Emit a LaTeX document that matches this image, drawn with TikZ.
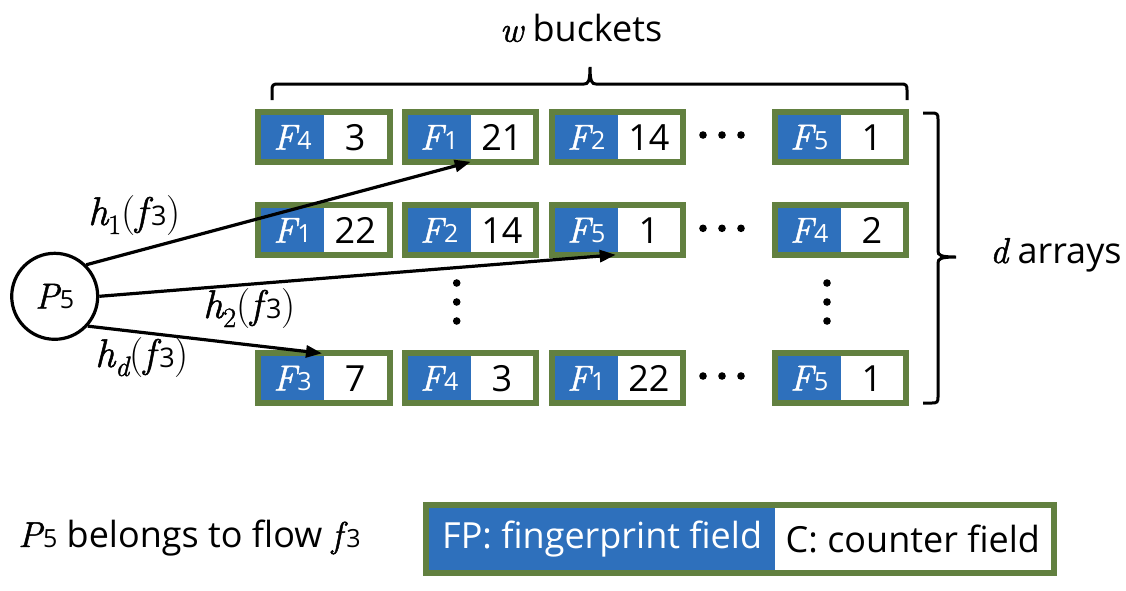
\documentclass[tikz,border=0pt]{standalone}
\usepackage{fontspec}
\setsansfont{Open Sans}
\newfontfamily\mif{Latin Modern Roman}[FakeBold=1.3]
\usetikzlibrary{arrows.meta,fit}
\definecolor{bgreen}{RGB}{98,128,64}
\definecolor{bblue}{RGB}{46,112,188}
\newcommand\vi[1]{{\mif\itshape #1}}
\newcommand\sdig[1]{{\fontsize{25}{25}\selectfont #1}}
\newcommand\ldig[1]{{\fontsize{27}{27}\selectfont #1}}
\newcommand\lsub[1]{\raisebox{-9pt}{\fontsize{28}{28}\selectfont\mif #1}}
\newcommand\rp[1]{{\rmfamily #1}}
\tikzset{
 txt/.style={font=\fontsize{36}{40}\selectfont\sffamily, inner sep=0pt},
 lbl/.style={font=\fontsize{40}{44}\selectfont\sffamily, inner sep=0pt, anchor=base west},
 fpcell/.style={txt, fill=bblue, text=white, minimum width=63pt, minimum height=44pt, outer sep=0pt},
 ccell/.style={txt, fill=white, minimum width=62.5pt, minimum height=44pt, outer sep=0pt},
 frame/.style={draw=bgreen, line width=6pt, inner sep=3pt, outer sep=0pt},
 arr/.style={line width=3.2pt, -{Triangle[length=16pt,width=12pt]}},
 brc/.style={line width=3pt},
 dotf/.style={fill=black},
}
\newcommand\mkbucket[5]{%
 \node[fpcell] (#1f) at ({#2+37.5},{#3+28}) {\vi{F}\kern1pt\sdig{#4}};
 \node[ccell] (#1c) at ({#2+100.25},{#3+28}) {#5};
 \node[frame, fit=(#1f)(#1c)] (#1) {};
}
\begin{document}
\begin{tikzpicture}[x=1pt,y=-1pt]
\useasboundingbox (0,0) rectangle (1126,590);
\fill[white] (0,0) rectangle (1126,590);
% row 1
\mkbucket{b11}{255}{109.3}{4}{3}
\mkbucket{b12}{401.7}{109.3}{1}{21}
\mkbucket{b13}{548.7}{109.3}{2}{14}
\mkbucket{b14}{771.7}{109.3}{5}{1}
% row 2
\mkbucket{b21}{255}{202.3}{1}{22}
\mkbucket{b22}{401.7}{202.3}{2}{14}
\mkbucket{b23}{548.7}{202.3}{5}{1}
\mkbucket{b24}{771.7}{202.3}{4}{2}
% row 3
\mkbucket{b31}{255}{350.3}{3}{7}
\mkbucket{b32}{401.7}{350.3}{4}{3}
\mkbucket{b33}{548.7}{350.3}{1}{22}
\mkbucket{b34}{771.7}{350.3}{5}{1}
% dots
\foreach \yy in {135,228.3,376}{
 \foreach \xx in {703,722,741}{\fill[dotf] (\xx,\yy) circle (3.8pt);}
}
\foreach \xx in {456.7,827}{
 \foreach \yy in {283,302,321}{\fill[dotf] (\xx,\yy) circle (3.8pt);}
}
% packet
\node[txt, draw, circle, line width=3.2pt, minimum size=86pt] (p5) at (54.7,296.3) {\vi{P}\kern1pt\sdig{5}};
\draw[arr] (p5.45) -- ([yshift=-2.5pt]b12f.south east);
\draw[arr] (p5.east) -- ([xshift=-2pt,yshift=-2.5pt]b23f.south east);
\draw[arr] (p5.-42) -- ([xshift=-2pt,yshift=3pt]b31f.north east);
\node[lbl] (l1) at (88,225) {\vi{h}\lsub{1}\rp{(}\vi{f}\kern4pt\ldig{3}\rp{)}};
\node[lbl] (l2) at (203,318) {\vi{h}\lsub{2}\rp{(}\vi{f}\kern4pt\ldig{3}\rp{)}};
\node[lbl] (l3) at (95,367) {\vi{h}\lsub{\itshape d}\rp{(}\vi{f}\kern4pt\ldig{3}\rp{)}};
% braces
\draw[brc] (272,100) -- (272,90) .. controls (272,85) and (273,84) .. (278,84) -- (584,84) .. controls (588,84) and (590,82) .. (590,67) .. controls (590,82) and (592,84) .. (596,84) -- (901,84) .. controls (906,84) and (907,85) .. (907,90) -- (907,100);
\draw[brc] (923,113) -- (932,113) .. controls (937,113) and (938,114) .. (938,119) -- (938,251) .. controls (938,255) and (940,257) .. (956,257) .. controls (940,257) and (938,259) .. (938,263) -- (938,397) .. controls (938,402) and (937,403) .. (932,403) -- (923,403);
\node[txt, anchor=base] (wb) at (581,41.7) {\vi{w} buckets};
\node[txt, anchor=base west] (da) at (990,263) {\vi{d} arrays};
% legend
\node[txt, anchor=base west] (note) at (18,547) {\vi{P}\kern1pt\sdig{5} belongs to flow \vi{f}\kern4pt\sdig{3}};
\node[fpcell, minimum width=345.7pt, minimum height=62pt] (lgf) at (602.15,538.7) {FP: fingerprint field};
\node[ccell, minimum width=275.7pt, minimum height=62pt] (lgc) at (912.85,538.7) {C: counter field};
\node[frame, fit=(lgf)(lgc)] (lg) {};
\end{tikzpicture}
\end{document}
